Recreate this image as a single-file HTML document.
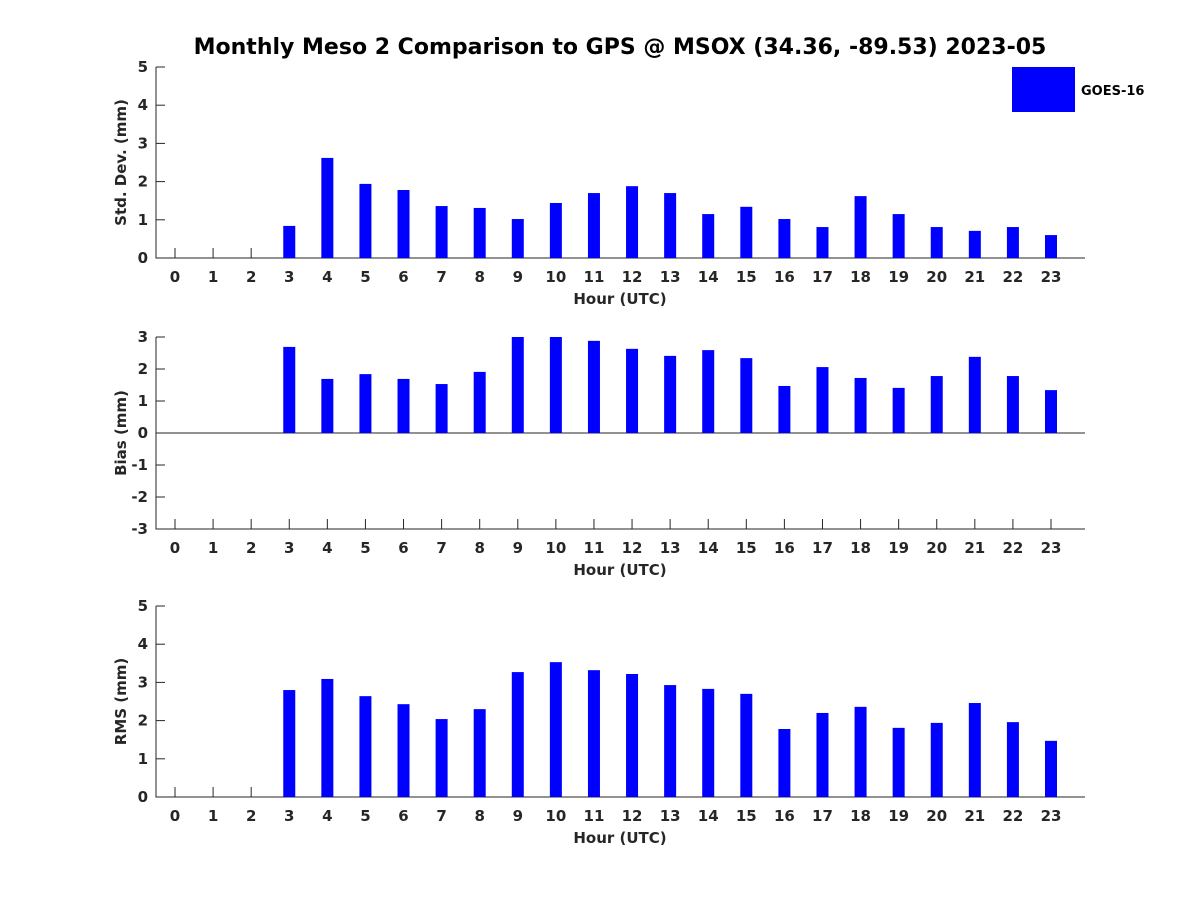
<!DOCTYPE html>
<html><head><meta charset="utf-8"><style>
body{margin:0;background:#fff}
svg text{font-family:"DejaVu Sans","Liberation Sans",sans-serif;font-weight:bold;fill:#262626}
</style></head><body>
<svg id="chart" width="1200" height="900" xmlns="http://www.w3.org/2000/svg">
<text x="620" y="54" text-anchor="middle" font-size="22" style="fill:#000">Monthly Meso 2 Comparison to GPS @ MSOX (34.36, -89.53) 2023-05</text>
<rect x="1012" y="67" width="63" height="45" fill="#0000ff"/>
<text x="1081" y="95" font-size="13" style="fill:#000">GOES-16</text>
<g id="plots"></g>
</svg>
<script>
const hours = [0,1,2,3,4,5,6,7,8,9,10,11,12,13,14,15,16,17,18,19,20,21,22,23];
const stdValues = [null,null,null,0.84,2.62,1.94,1.78,1.36,1.31,1.02,1.44,1.70,1.88,1.70,1.15,1.34,1.02,0.81,1.62,1.15,0.81,0.71,0.81,0.60];
const biasValues = [null,null,null,2.69,1.69,1.84,1.69,1.53,1.91,3.0,3.0,2.88,2.63,2.41,2.59,2.34,1.47,2.06,1.72,1.41,1.78,2.38,1.78,1.34];
const rmsValues = [null,null,null,2.80,3.09,2.64,2.43,2.04,2.30,3.27,3.53,3.32,3.22,2.93,2.83,2.70,1.78,2.20,2.36,1.81,1.94,2.46,1.96,1.47];
const stdTicks = [0,1,2,3,4,5];
const biasTicks = [-3,-2,-1,0,1,2,3];
const rmsTicks = [0,1,2,3,4,5];

const NS="http://www.w3.org/2000/svg";
const g=document.getElementById('plots');
function mk(tag,attrs,parent){const e=document.createElementNS(NS,tag);for(const k in attrs)e.setAttribute(k,attrs[k]);(parent||g).appendChild(e);return e;}
const X0=156,X1=1085;
function xs(h){return 175+h*(1051-175)/23;}

function panel(name,top,bottom,ymin,ymax,ticks,vals,ylabel){
  const grp=mk('g',{});
  
  
  const ys=v=>bottom-(v-ymin)*(bottom-top)/(ymax-ymin);
  hours.forEach(h=>{
    const x=xs(h);
    mk('line',{x1:x,x2:x,y1:bottom,y2:bottom-10,stroke:'#262626'},grp);
    const t=mk('text',{x:x,y:bottom+24,'text-anchor':'middle','font-size':15},grp);
    t.textContent=h;
    
    
  });
  ticks.forEach(v=>{
    const y=ys(v);
    mk('line',{x1:X0,x2:X0+9,y1:y,y2:y,stroke:'#262626'},grp);
    const t=mk('text',{x:X0-8,y:y+5,'text-anchor':'end','font-size':15},grp);
    t.textContent=v;
    
    
  });
  const ax=mk('path',{d:`M${X0},${top}V${bottom}H${X1}`,stroke:'#262626','stroke-width':1,fill:'none'},grp);
  
  
  if(ymin<0){
    const z=mk('line',{x1:X0,x2:X1,y1:ys(0),y2:ys(0),stroke:'#262626'},grp);
    
    
  }
  vals.forEach((v,i)=>{
    if(v==null)return;
    const y0=ys(Math.max(0,ymin)),y1=ys(v);
    const r=mk('rect',{x:xs(hours[i])-6,y:Math.min(y0,y1),width:12,height:Math.abs(y0-y1),fill:'#0000ff'},grp);
    
    
  });
  const xl=mk('text',{x:620,y:bottom+46,'text-anchor':'middle','font-size':15},grp);
  xl.textContent='Hour (UTC)';
  
  
  const cy=(top+bottom)/2;
  const yl=mk('text',{x:0,y:0,'text-anchor':'middle','font-size':15,transform:`translate(126,${cy}) rotate(-90)`},grp);
  yl.textContent=ylabel;
  
  
}
panel('std',67,258,0,5,stdTicks,stdValues,'Std. Dev. (mm)');
panel('bias',337,529,-3,3,biasTicks,biasValues,'Bias (mm)');
panel('rms',606,797,0,5,rmsTicks,rmsValues,'RMS (mm)');
</script>
</body></html>
